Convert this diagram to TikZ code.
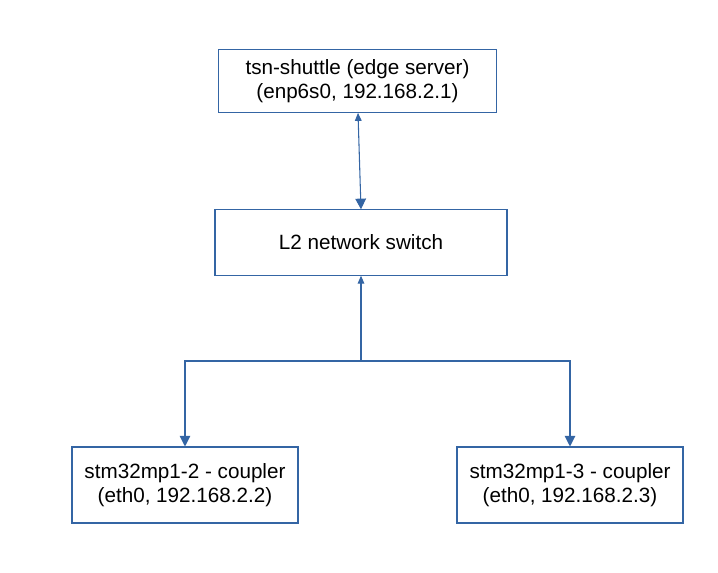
\documentclass[tikz,border=0pt]{standalone}
\usepackage{fontspec}
\setmainfont{Liberation Sans}
\usetikzlibrary{arrows.meta,positioning,calc}
\definecolor{linkblue}{HTML}{3465A4}

\begin{document}
\begin{tikzpicture}[
x=0.75pt,y=-0.75pt,
every node/.style={
draw=linkblue,
line width=0.8pt,
align=center,
inner sep=0pt,
font=\fontsize{15.5}{18}\selectfont
},
link/.style={draw=linkblue,line width=0.8pt},
bigtip/.style={-{Triangle[width=8pt,length=8pt]}},
smalltip/.style={{Triangle[width=5pt,length=6pt]}-}
]

\useasboundingbox (0,0) rectangle (718,572);

\node[minimum width=209pt,minimum height=47pt] (server) at (357.5,81)
{tsn-shuttle (edge server)\\(enp6s0, 192.168.2.1)};
\node[minimum width=219pt,minimum height=49pt] (switch) at (361,242.5)
{L2 network switch};
\node[minimum width=169.5pt,minimum height=57pt] (coupler2) at (185,485)
{stm32mp1-2 - coupler\\(eth0, 192.168.2.2)};
\node[minimum width=169.5pt,minimum height=57pt] (coupler3) at (570,485)
{stm32mp1-3 - coupler\\(eth0, 192.168.2.3)};

\coordinate (branch) at (361,361);

% server <-> switch
\draw[link,{Triangle[width=5pt,length=6pt]}-{Triangle[width=8pt,length=8pt]}]
(server.south) ++(0.5,0) -- (switch.north);

% switch to couplers
\draw[link,smalltip] (switch.south) -- (branch);
\draw[link,bigtip] (branch) -| (coupler2.north);
\draw[link,bigtip] (branch) -| (coupler3.north);

\end{tikzpicture}
\end{document}
